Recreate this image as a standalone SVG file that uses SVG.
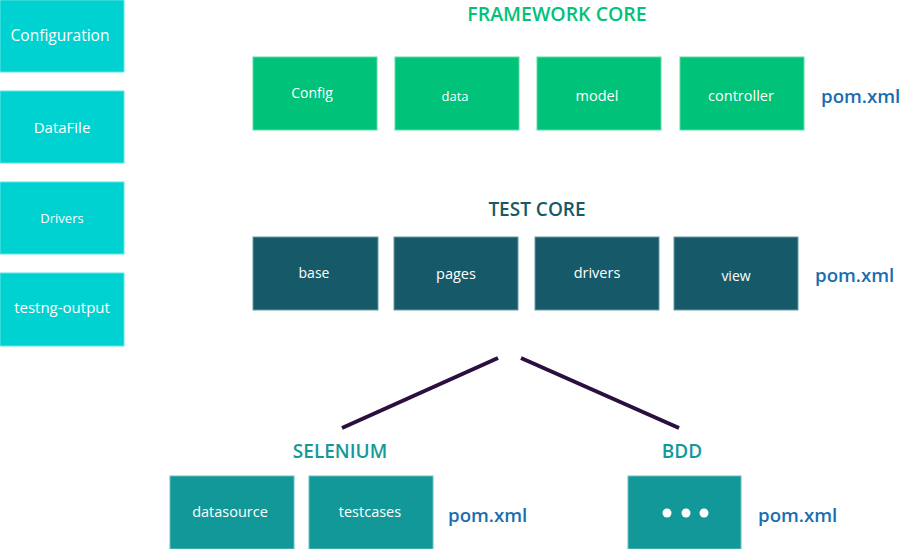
<svg xmlns="http://www.w3.org/2000/svg" width="902" height="549" viewBox="0 0 902 549">
<style>
text{font-family:"Open Sans","Noto Sans",sans-serif;}
.lbl{fill:#ffffff;font-size:14px;text-anchor:middle;}
.side{fill:#00D2D2;stroke:#5fe3e3;stroke-width:1;}
.fw{fill:#00C278;stroke:#5fd9a8;stroke-width:1;}
.tc{fill:#165A69;stroke:#6a9aa5;stroke-width:1;}
.sb{fill:#129899;stroke:#66c0c0;stroke-width:1;}
.pom{fill:#1A6EB0;font-size:18.7px;font-weight:600;}
.title{font-size:18px;font-weight:600;text-anchor:middle;}
.conn{stroke:#2A0F3F;stroke-width:4;fill:none;}
</style>
<rect width="902" height="549" fill="#ffffff"/>
<g id="side-configuration"><rect class="side" x="0" y="0" width="124" height="72"/><text class="lbl" x="60" y="41" style="font-size:15.5px">Configuration</text></g>
<g id="side-datafile"><rect class="side" x="0" y="91" width="124" height="72"/><text class="lbl" x="62" y="133" style="font-size:15px">DataFile</text></g>
<g id="side-drivers"><rect class="side" x="0" y="182" width="124" height="72"/><text class="lbl" x="62" y="223" style="font-size:13px">Drivers</text></g>
<g id="side-testng"><rect class="side" x="0" y="273" width="124" height="73"/><text class="lbl" x="62" y="313" style="font-size:15px">testng-output</text></g>

<text class="title" x="557" y="21" fill="#00C278" style="font-size:19.5px">FRAMEWORK CORE</text>
<g id="fw-config"><rect class="fw" x="253" y="57" width="124" height="73"/><text class="lbl" x="312" y="98">Config</text></g>
<g id="fw-data"><rect class="fw" x="395" y="57" width="124" height="73"/><text class="lbl" x="455" y="101" style="font-size:13px">data</text></g>
<g id="fw-model"><rect class="fw" x="537" y="57" width="124" height="73"/><text class="lbl" x="597" y="101" style="font-size:14.5px">model</text></g>
<g id="fw-controller"><rect class="fw" x="680" y="57" width="124" height="73"/><text class="lbl" x="741" y="101" style="font-size:14.5px">controller</text></g>
<text class="pom" x="821" y="103">pom.xml</text>

<text class="title" x="537" y="216" fill="#165A69" style="font-size:19px">TEST CORE</text>
<g id="tc-base"><rect class="tc" x="253" y="237" width="125" height="73"/><text class="lbl" x="314" y="278">base</text></g>
<g id="tc-pages"><rect class="tc" x="394" y="237" width="124" height="73"/><text class="lbl" x="456" y="279" style="font-size:14.5px">pages</text></g>
<g id="tc-drivers"><rect class="tc" x="535" y="237" width="124" height="73"/><text class="lbl" x="597" y="278" style="font-size:14.5px">drivers</text></g>
<g id="tc-view"><rect class="tc" x="674" y="237" width="124" height="73"/><text class="lbl" x="736" y="281">view</text></g>
<text class="pom" x="815" y="282">pom.xml</text>

<g id="connectors">
<line class="conn" x1="498" y1="358" x2="342" y2="428"/>
<line class="conn" x1="521" y1="358" x2="679" y2="428"/>
</g>

<text class="title" x="340" y="458" fill="#139999" style="font-size:19px">SELENIUM</text>
<g id="sel-datasource"><rect class="sb" x="170" y="476" width="124" height="73"/><text class="lbl" x="230" y="517" style="font-size:14.5px">datasource</text></g>
<g id="sel-testcases"><rect class="sb" x="309" y="476" width="124" height="73"/><text class="lbl" x="370" y="517" style="font-size:14.5px">testcases</text></g>
<text class="pom" x="448" y="522">pom.xml</text>

<text class="title" x="682" y="458" fill="#139999" style="font-size:19px">BDD</text>
<g id="bdd-more"><rect class="sb" x="628" y="476" width="113" height="73"/>
<circle cx="667" cy="513" r="4.5" fill="#fff"/><circle cx="686" cy="513" r="4.5" fill="#fff"/><circle cx="704" cy="513" r="4.5" fill="#fff"/></g>
<text class="pom" x="758" y="522">pom.xml</text>
</svg>
